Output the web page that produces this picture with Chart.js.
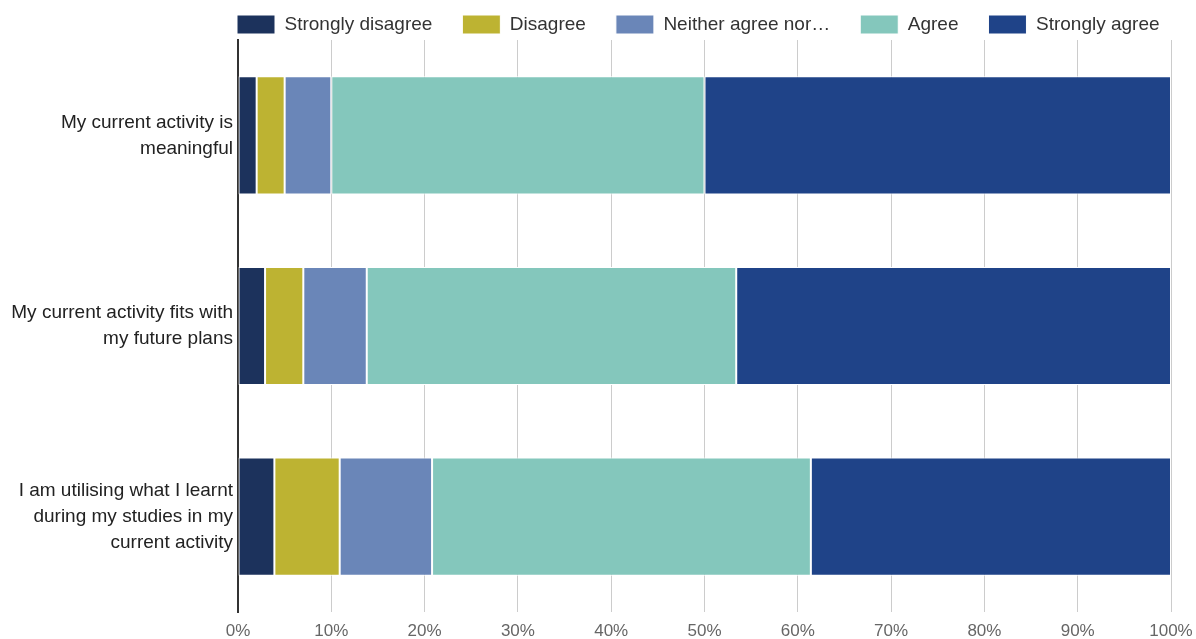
<!DOCTYPE html>
<html lang="en">
<head>
    <meta charset="UTF-8">
    <title>Current activity survey</title>
    <script src="https://cdn.jsdelivr.net/npm/chart.js"></script>
    <style>
        body {
            margin: 0;
            background-color: white;
            font-family: "Liberation Sans", Arial, sans-serif;
        }
        #wrap {
            width: 1196px;
            height: 639px;
            position: relative;
        }
    </style>
</head>
<body>
    <div id="wrap">
        <canvas id="surveyChart"></canvas>
    </div>

    <script>
        // statements (y axis), one line per array entry
        const statements = [
            ['My current activity is', 'meaningful'],
            ['My current activity fits with', 'my future plans'],
            ['I am utilising what I learnt', 'during my studies in my', 'current activity']
        ];

        const seriesNames = ['Strongly disagree', 'Disagree', 'Neither agree nor\u2026', 'Agree', 'Strongly agree'];
        const seriesColors = ['#1c325c', '#bdb332', '#6a86b8', '#84c7bc', '#1f4388'];

        // percent of respondents
        const stronglyDisagree = [2.0, 2.9, 3.9];
        const disagree = [3.0, 4.1, 7.0];
        const neither = [5.0, 6.8, 9.9];
        const agree = [40.0, 39.6, 40.6];
        const stronglyAgree = [50.0, 46.6, 38.6];

        const xTicks = [0, 10, 20, 30, 40, 50, 60, 70, 80, 90, 100];

        const seriesValues = [stronglyDisagree, disagree, neither, agree, stronglyAgree];

        const datasets = seriesNames.map((name, i) => ({
            label: name,
            data: seriesValues[i],
            backgroundColor: seriesColors[i],
            borderColor: '#ffffff',
            borderWidth: 1,
            borderSkipped: false,
            categoryPercentage: 1.0,
            barPercentage: 0.62
        }));

        // keep the legend on one row, starting at the plot's left edge
        const legendPlacer = {
            id: 'legendPlacer',
            beforeLayout(chart) {
                const lg = chart.legend;
                if (lg && !lg._patched) {
                    const fit = lg.fit;
                    lg.fit = function () {
                        const mw = this.maxWidth;
                        this.maxWidth = 3000;
                        fit.call(this);
                        this.maxWidth = mw;
                        this.width = mw;
                        this.height = 40;
                    };
                    lg._patched = true;
                }
            },
            afterLayout(chart) {
                const lg = chart.legend;
                if (!lg) return;
                const pad = lg.options.labels.padding;
                lg.left = chart.chartArea.left - pad - 1;
                lg.right = 3000;
                lg.top = 15 - pad;
            }
        };

        const chart = new Chart(document.getElementById('surveyChart').getContext('2d'), {
            type: 'bar',
            data: { labels: statements, datasets: datasets },
            plugins: [legendPlacer],
            options: {
                indexAxis: 'y',
                responsive: true,
                maintainAspectRatio: false,
                animation: false,
                layout: { padding: { left: 0, right: 25, top: 0, bottom: 0 } },
                plugins: {
                    legend: {
                        position: 'top',
                        align: 'start',
                        labels: {
                            boxWidth: 38,
                            boxHeight: 19,
                            padding: 30,
                            color: '#333333',
                            font: { family: '"Liberation Sans", Arial, sans-serif', size: 19 }
                        }
                    },
                    tooltip: { enabled: false }
                },
                scales: {
                    x: {
                        stacked: true,
                        min: 0,
                        max: 100,
                        afterBuildTicks(scale) {
                            scale.ticks = xTicks.map(v => ({ value: v }));
                        },
                        afterFit(scale) {
                            scale.height = 27;
                            scale.paddingLeft = 0;
                            scale.paddingRight = 0;
                        },
                        ticks: {
                            padding: 9,
                            color: '#666666',
                            font: { family: '"Liberation Sans", Arial, sans-serif', size: 17 },
                            callback: v => v + '%'
                        },
                        grid: { color: '#cccccc', lineWidth: 1, drawTicks: false },
                        border: { display: false }
                    },
                    y: {
                        stacked: true,
                        afterFit(scale) {
                            scale.width = 238;
                            scale.paddingTop = 0;
                            scale.paddingBottom = 0;
                        },
                        ticks: {
                            padding: 5,
                            color: '#222222',
                            font: { family: '"Liberation Sans", Arial, sans-serif', size: 19, lineHeight: 1.37 }
                        },
                        grid: { display: false, drawTicks: false },
                        border: { display: true, color: '#333333', width: 2 }
                    }
                }
            }
        });
    </script>
</body>
</html>
